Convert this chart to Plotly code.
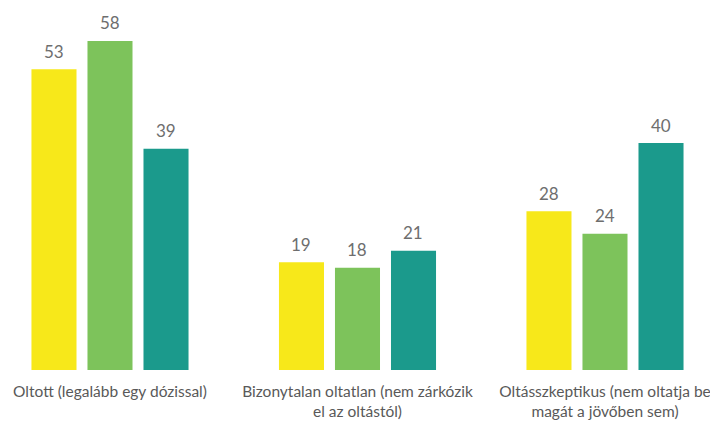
import plotly.graph_objects as go

categories = [
    "Oltott (legalább egy dózissal)",
    "Bizonytalan oltatlan (nem zárkózik<br>el az oltástól)",
    "Oltásszkeptikus (nem oltatja be<br>magát a jövőben sem)",
]
series_names = ["Sorozat 1", "Sorozat 2", "Sorozat 3"]
series_values = [
    [53, 19, 28],
    [58, 18, 24],
    [39, 21, 40],
]
colors = ["#F7E81A", "#7DC35B", "#1B9A8C"]

SLOT_PX = 56  # pixel width of one bar slot inside a group

fig = go.Figure()
annotations = []
for i, (name, vals, col) in enumerate(zip(series_names, series_values, colors)):
    fig.add_trace(go.Bar(
        x=categories, y=vals, name=name,
        marker=dict(color=col, line=dict(width=0)),
        hoverinfo="x+y+name",
    ))
    for cat, v in zip(categories, vals):
        annotations.append(dict(
            x=cat, y=v, xref="x", yref="y", text=str(v), showarrow=False,
            xanchor="center", yanchor="middle",
            xshift=(i - 1) * SLOT_PX, yshift=18,
            font=dict(size=17, color="#6E6E6E", family="Lato"),
        ))

# The page body has an 8px margin, so the figure is 8px smaller than the window.
fig.update_layout(
    width=710, height=414,
    margin=dict(l=0, r=0, t=0, b=52, pad=0, autoexpand=False),
    plot_bgcolor="white", paper_bgcolor="white",
    barmode="group", bargap=0.321, bargroupgap=0.196,
    showlegend=False,
    font=dict(family="Lato", color="#595959"),
    annotations=annotations,
)
fig.update_xaxes(
    range=[-0.4121, 2.4566], showgrid=False, showline=False, zeroline=False,
    automargin=False, ticks="", ticklen=0, ticklabelstandoff=10,
    tickfont=dict(size=15.5, color="#595959", family="Lato"),
)
fig.update_yaxes(
    range=[0, 63.8], showgrid=False, showline=False, zeroline=False,
    automargin=False, showticklabels=False,
)
fig.write_html("out.html")
